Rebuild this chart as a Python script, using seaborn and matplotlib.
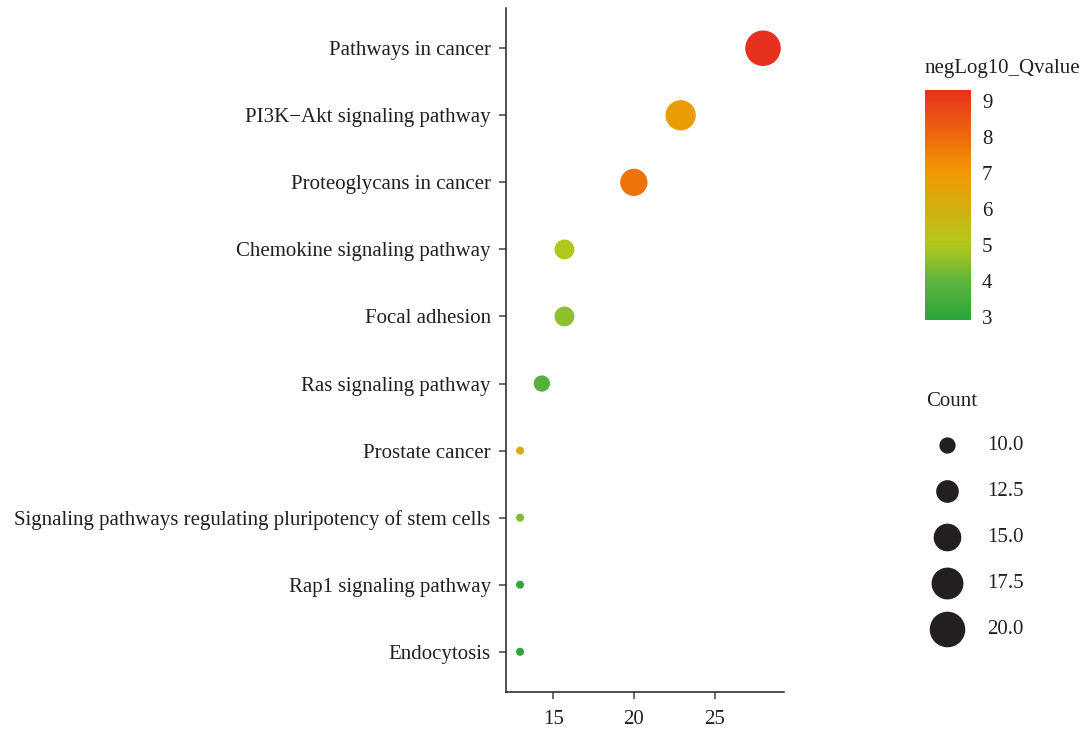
import numpy as np
import pandas as pd
import matplotlib
matplotlib.use("Agg")
import matplotlib.pyplot as plt
import seaborn as sns
from matplotlib.colors import LinearSegmentedColormap, Normalize
from matplotlib.cm import ScalarMappable

pathways = ["Pathways in cancer", "PI3K\u2212Akt signaling pathway", "Proteoglycans in cancer",
            "Chemokine signaling pathway", "Focal adhesion", "Ras signaling pathway",
            "Prostate cancer", "Signaling pathways regulating pluripotency of stem cells",
            "Rap1 signaling pathway", "Endocytosis"]
x_values = [28.0, 22.9, 20.0, 15.7, 15.7, 14.3, 12.95, 12.95, 12.95, 12.95]
counts = [20, 16.5, 14.8, 11.3, 11.3, 10, 8, 8, 8, 8]
neglog_q = [9.3, 6.8, 7.8, 5.0, 4.6, 3.8, 6.0, 4.4, 3.1, 2.92]
count_breaks = [10.0, 12.5, 15.0, 17.5, 20.0]
color_ticks = [3, 4, 5, 6, 7, 8, 9]

df = pd.DataFrame({"Pathway": pathways, "X": x_values, "Count": counts, "Q": neglog_q})

sns.set_style("white")
plt.rcParams['font.family'] = ['Liberation Serif', 'DejaVu Serif']
txt = "#231f20"
FS = 15

cmap = LinearSegmentedColormap.from_list(
    "gyr", [(0.0, "#29a63c"), (0.17, "#5fb43c"), (0.33, "#b2c81c"), (0.64, "#f19800"), (1.0, "#e8301e")])
qmin, qmax = min(neglog_q), max(neglog_q)
norm = Normalize(qmin, qmax)

smin_pt, smax_pt = 5.8, 25.6  # diameters in points
sizes = (smin_pt**2, smax_pt**2)
cmin, cmax = min(counts), max(counts)

def size_of(v):
    return sizes[0] + (sizes[1] - sizes[0]) * (v - cmin) / (cmax - cmin)

fig = plt.figure(figsize=(10.87, 7.31), dpi=100)
ax = fig.add_axes([506/1087, 1-692/731, (784-506)/1087, (692-8)/731])

sns.scatterplot(data=df, x="X", y="Pathway", hue="Q", hue_norm=norm, palette=cmap,
                size="Count", sizes=sizes, size_norm=(cmin, cmax),
                linewidth=0, legend=False, ax=ax, alpha=1)

ax.set_xlim(12.08, 29.3)
ax.set_ylim(len(pathways) - 1 + 0.6, -0.6)
ax.set_xticks([15, 20, 25])
ax.set_xlabel("")
ax.set_ylabel("")
for s in ["top", "right"]:
    ax.spines[s].set_visible(False)
for s in ["left", "bottom"]:
    ax.spines[s].set_color(txt)
    ax.spines[s].set_linewidth(1.1)
ax.tick_params(axis="both", direction="out", length=5, width=1.1, color="#444444",
               bottom=True, left=True, labelsize=FS, labelcolor=txt)
ax.tick_params(axis="x", pad=8)
ax.tick_params(axis="y", pad=6)

# colorbar
cax = fig.add_axes([925/1087, 1-320/731, 46/1087, 230/731])
sm = ScalarMappable(norm=norm, cmap=cmap)
cb = fig.colorbar(sm, cax=cax, ticks=color_ticks)
cb.outline.set_visible(False)
cax.tick_params(axis="y", which="both", direction="in", color="white", length=5, width=1,
                left=True, right=True, labelleft=False, labelright=True,
                labelsize=FS, labelcolor=txt, pad=8)
fig.text(925/1087, 1-68/731, "negLog10_Qvalue", fontsize=FS, color=txt, va="center", ha="left")

# size legend
handles = [plt.scatter([], [], s=size_of(v), color=txt, linewidth=0) for v in count_breaks]
leg = fig.legend(handles, [f"{v:.1f}" for v in count_breaks], title="Count",
                 loc="upper left", bbox_to_anchor=(912/1087, 1-377/731), frameon=False,
                 fontsize=FS, title_fontsize=FS, labelspacing=1.27, handletextpad=0.9,
                 borderpad=0.2, scatterpoints=1)
leg._legend_box.align = "left"
leg._legend_box.sep = 18
for t in leg.get_texts():
    t.set_color(txt)
leg.get_title().set_color(txt)

fig.savefig("out.png", dpi=100)
